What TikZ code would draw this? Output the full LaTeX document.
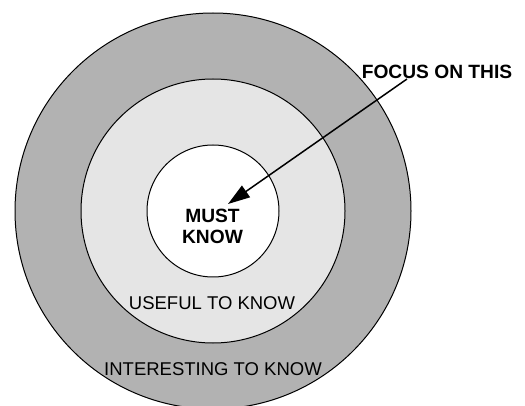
\documentclass[tikz,border=0pt]{standalone}
\usepackage{fontspec}
\setmainfont{Liberation Sans}
\usetikzlibrary{arrows.meta}
\definecolor{outergray}{gray}{0.70}
\definecolor{middlegray}{gray}{0.90}

\begin{document}
\begin{tikzpicture}[x=1pt, y=-1pt,
    ring/.style={circle, draw=black, line width=1pt, inner sep=0pt},
    label/.style={inner sep=0pt, font=\fontsize{18.5}{21}\selectfont},
    boldlabel/.style={inner sep=0pt, font=\fontsize{19.2}{21}\selectfont\bfseries},
    pointer/.style={-{Triangle[length=22pt, width=14pt]}, line width=1.5pt}]
  \useasboundingbox (0,0) rectangle (525,406);
  % rings, outermost first
  \node[ring, fill=outergray, minimum size=396pt] (interesting) at (213,211) {};
  \node[ring, fill=middlegray, minimum size=264pt] (useful) at (213,211) {};
  \node[ring, fill=white, minimum size=132pt] (must) at (213,211) {};
  % labels
  \node[boldlabel, align=center] (mustlbl) at (212.5,226) {MUST\\KNOW};
  \node[label] (usefullbl) at (212,303) {USEFUL TO KNOW};
  \node[label] (interestinglbl) at (213,369) {INTERESTING TO KNOW};
  \node[boldlabel] (focus) at (437,72) {FOCUS ON THIS};
  % arrow
  \coordinate (tip) at (228,204);
  \draw[pointer] ([xshift=-30pt]focus.south) -- (tip);
\end{tikzpicture}
\end{document}
